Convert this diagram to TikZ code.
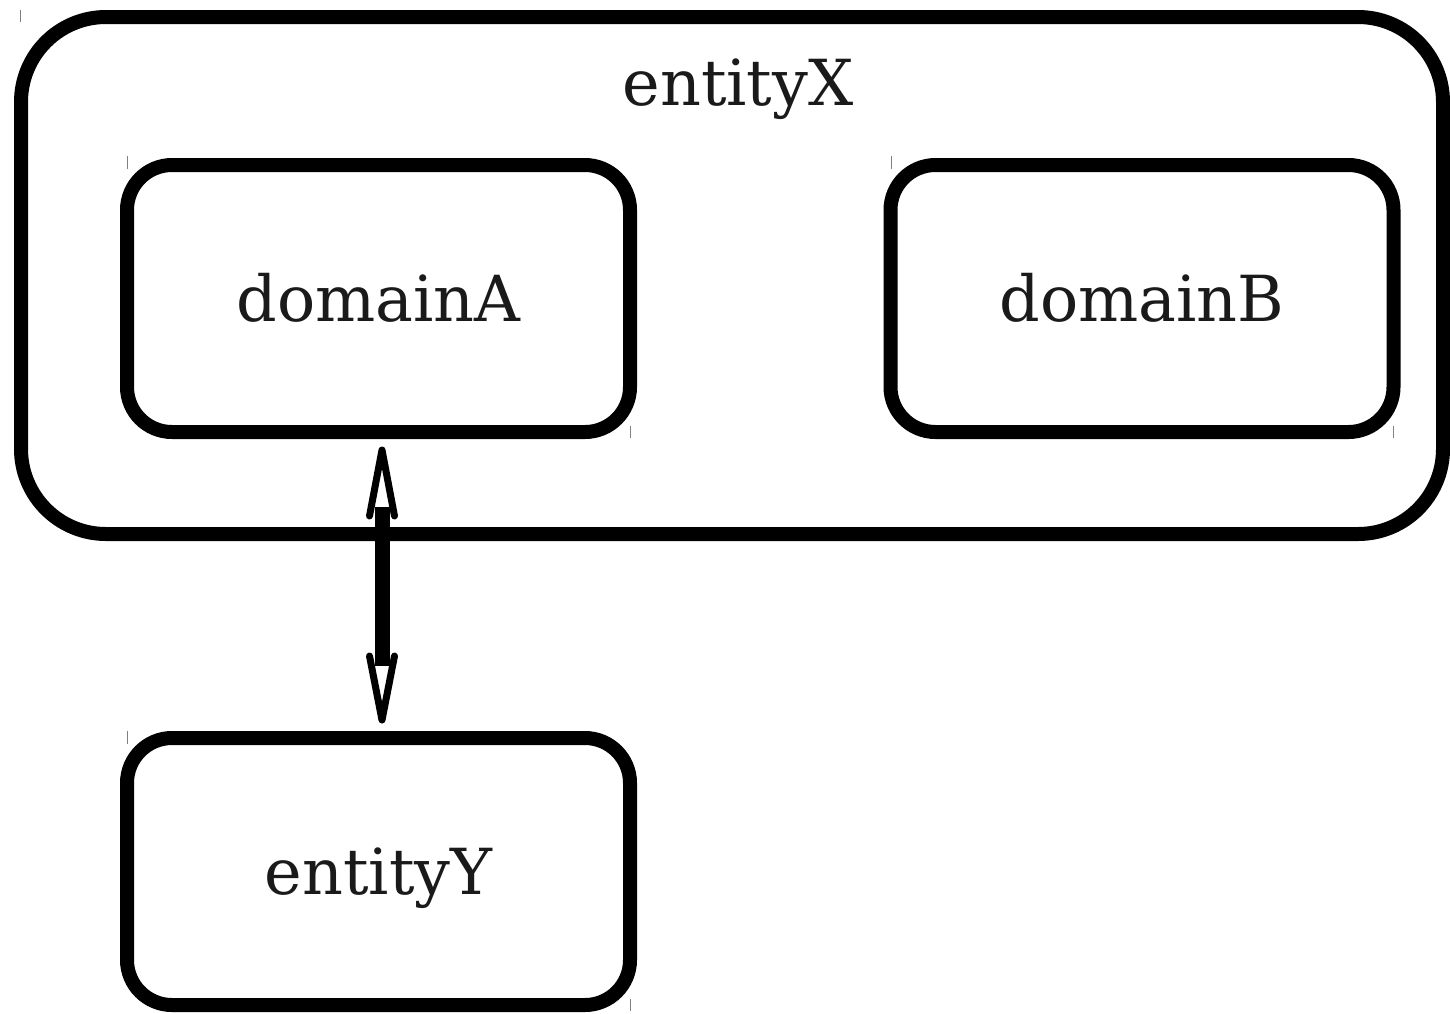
\documentclass[tikz,border=0pt]{standalone}
\usepackage{fontspec}
\setmainfont{DejaVu Serif}
\usetikzlibrary{calc}
\definecolor{txt}{HTML}{1A1A1A}
\definecolor{tick}{HTML}{808080}
\tikzset{
  box/.style={draw=black, line width=14pt, rounded corners=45pt, outer sep=0pt,
    minimum width=503pt, minimum height=267pt, inner sep=0pt,
    text height=45pt, text depth=0pt,
    font=\fontsize{63.5}{70}\selectfont, text=txt},
  bigbox/.style={draw=black, line width=14pt, rounded corners=85pt, outer sep=0pt,
    minimum width=1422pt, minimum height=517pt, inner sep=0pt},
  lbl/.style={font=\fontsize{63.5}{70}\selectfont, text=txt, inner sep=0pt, anchor=base},
  shaft/.style={line width=15pt, line cap=butt},
  head/.style={line width=7pt, line cap=round, line join=round},
  tickmark/.style={draw=tick, line width=1pt}
}
\begin{document}
\begin{tikzpicture}[x=1pt, y=-1pt]
\useasboundingbox (0,0) rectangle (1450,1013);
\node[bigbox] (entityX) at (732,275.5) {};
\node[lbl] (entityXlabel) at (738,105) {entityX};
\node[box] (domainA) at (378.5,298.5) {domainA};
\node[box] (domainB) at (1142,298.5) {domainB};
\node[box] (entityY) at (378.5,871.5) {entityY};
% connector
\coordinate (s1) at ($(domainA.south)+(3.5,75)$);
\coordinate (s2) at ($(entityY.north)+(3.5,-72)$);
\draw[shaft] (s1) -- (s2);
\draw[head] ($(domainA.south)+(-9,84)$) -- ($(domainA.south)+(3.5,18)$) -- ($(domainA.south)+(16,84)$);
\draw[head] ($(entityY.north)+(-9,-82)$) -- ($(entityY.north)+(3.5,-18)$) -- ($(entityY.north)+(16,-82)$);
% corner ticks
\draw[tickmark] (20,10) -- (20,22);
\draw[tickmark] (127,156) -- (127,169);
\draw[tickmark] (630,426) -- (630,438);
\draw[tickmark] (891,156) -- (891,169);
\draw[tickmark] (1393,426) -- (1393,438);
\draw[tickmark] (127,731) -- (127,744);
\draw[tickmark] (630,999) -- (630,1011);
\end{tikzpicture}
\end{document}
